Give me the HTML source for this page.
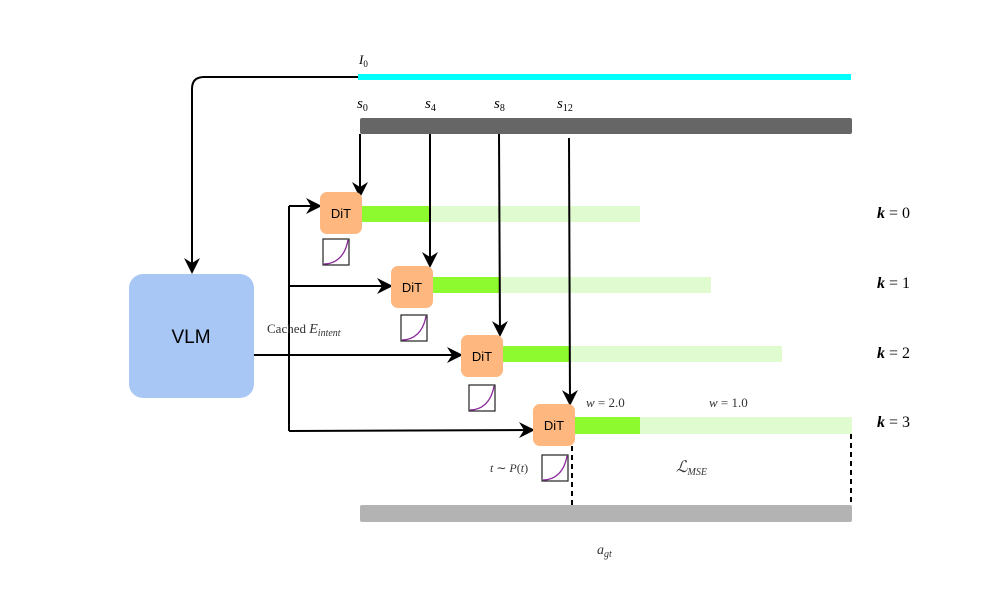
<!DOCTYPE html>
<html><head><style>body{margin:0;background:#fff}svg{display:block}</style></head><body>
<svg width="997" height="610" viewBox="0 0 997 610" xmlns="http://www.w3.org/2000/svg" font-family="Liberation Serif, serif">
<defs>
<marker id="b" markerWidth="16" markerHeight="16" refX="14" refY="8" orient="auto" markerUnits="userSpaceOnUse" viewBox="0 0 16 16"><path d="M0,0 L16,8 L0,16 L5,8 z" fill="#000"/></marker>
<g id="crv"><rect x="0" y="0" width="26" height="26" fill="#fff" stroke="#222" stroke-width="1.2"/><path d="M1,25 C12,25 22,18 25,1" fill="none" stroke="#8a2a9a" stroke-width="1.3"/></g>
</defs>
<rect x="358" y="74" width="493" height="6" fill="#00ffff"/>
<path d="M358,77 H204 Q192,77 192,89 V272" fill="none" stroke="#000" stroke-width="2" marker-end="url(#b)"/>
<text x="359" y="64" font-size="13" font-style="italic">I<tspan font-size="9" dy="3" font-style="normal">0</tspan></text>
<g font-size="15" font-style="italic">
<text x="357" y="108">s<tspan font-size="10" dy="3" font-style="normal">0</tspan></text>
<text x="425" y="108">s<tspan font-size="10" dy="3" font-style="normal">4</tspan></text>
<text x="494" y="108">s<tspan font-size="10" dy="3" font-style="normal">8</tspan></text>
<text x="557" y="108">s<tspan font-size="10" dy="3" font-style="normal">12</tspan></text>
</g>
<rect x="360" y="118" width="492" height="16" rx="2" fill="#666"/>
<rect x="362" y="206" width="278" height="16" fill="#e0fbd0"/><rect x="362" y="206" width="68" height="16" fill="#8cfa2e"/>
<rect x="433" y="277" width="278" height="16" fill="#e0fbd0"/><rect x="433" y="277" width="66" height="16" fill="#8cfa2e"/>
<rect x="503" y="346" width="279" height="16" fill="#e0fbd0"/><rect x="503" y="346" width="67" height="16" fill="#8cfa2e"/>
<rect x="575" y="417" width="277" height="17" fill="#e0fbd0"/><rect x="575" y="417" width="65" height="17" fill="#8cfa2e"/>
<g stroke="#000" stroke-width="2" fill="none">
<path d="M360,134 V196" marker-end="url(#b)"/>
<path d="M430,134 V266" marker-end="url(#b)"/>
<path d="M499,134 L500,335" marker-end="url(#b)"/>
<path d="M569,138 L570,404" marker-end="url(#b)"/>
<path d="M289,206 V431"/>
<path d="M289,206 H320" marker-end="url(#b)"/>
<path d="M289,286 H391" marker-end="url(#b)"/>
<path d="M254,355 H461" marker-end="url(#b)"/>
<path d="M289,431 L533,430" marker-end="url(#b)"/>
<path d="M572,446 V505" stroke-dasharray="5,4"/>
<path d="M851,434 V505" stroke-dasharray="5,4"/>
</g>
<rect x="129" y="274" width="125" height="124" rx="14" fill="#a9c7f5"/>
<text x="191" y="343" font-family="Liberation Sans, sans-serif" font-size="19" text-anchor="middle">VLM</text>
<g font-family="Liberation Sans, sans-serif" font-size="13" text-anchor="middle">
<rect x="320" y="192" width="42" height="42" rx="7" fill="#fdb77f"/><text x="341" y="218">DiT</text>
<rect x="391" y="266" width="42" height="42" rx="7" fill="#fdb77f"/><text x="412" y="292">DiT</text>
<rect x="461" y="335" width="42" height="42" rx="7" fill="#fdb77f"/><text x="482" y="361">DiT</text>
<rect x="533" y="404" width="42" height="42" rx="7" fill="#fdb77f"/><text x="554" y="430">DiT</text>
</g>
<use href="#crv" x="323" y="239"/>
<use href="#crv" x="401" y="315"/>
<use href="#crv" x="469" y="385"/>
<use href="#crv" x="542" y="455"/>
<g font-size="16" font-style="italic" font-weight="bold">
<text x="877" y="218">k <tspan font-style="normal" font-weight="normal">= 0</tspan></text>
<text x="877" y="288">k <tspan font-style="normal" font-weight="normal">= 1</tspan></text>
<text x="877" y="358">k <tspan font-style="normal" font-weight="normal">= 2</tspan></text>
<text x="877" y="427">k <tspan font-style="normal" font-weight="normal">= 3</tspan></text>
</g>
<text x="267" y="333" font-size="13" fill="#333">Cached <tspan font-style="italic" font-size="14">E</tspan><tspan font-style="italic" font-size="10" dy="3">intent</tspan></text>
<text x="586" y="407" font-size="13" fill="#333"><tspan font-style="italic">w</tspan> = 2.0</text>
<text x="709" y="407" font-size="13" fill="#333"><tspan font-style="italic">w</tspan> = 1.0</text>
<text x="490" y="472" font-size="12" font-style="italic" fill="#333">t <tspan font-style="normal">∼</tspan> P<tspan font-style="normal">(</tspan>t<tspan font-style="normal">)</tspan></text>
<text x="676" y="472" font-size="16" font-style="italic" fill="#333">ℒ<tspan font-size="10" dy="3">MSE</tspan></text>
<rect x="360" y="505" width="492" height="17" rx="2" fill="#b3b3b3"/>
<text x="597" y="554" font-size="14" font-style="italic" fill="#333">a<tspan font-size="10" dy="3">gt</tspan></text>
</svg>
</body></html>
